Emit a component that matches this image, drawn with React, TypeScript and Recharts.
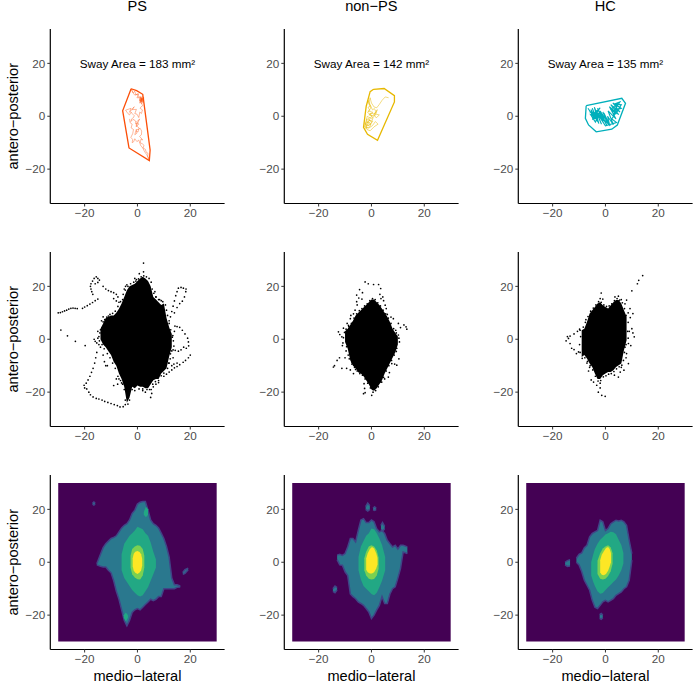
import { ComposedChart, Area, Line, Scatter, XAxis, YAxis, ReferenceDot } from 'recharts';
import type { ReactNode } from 'react';

type Pt = [number, number];
type Band = [number, number, number]; // x, low, high

const titles = ['PS', 'non\u2212PS', 'HC'];
const swayLabels = ['Sway Area = 183 mm\u00B2', 'Sway Area = 142 mm\u00B2', 'Sway Area = 135 mm\u00B2'];
const axisTicks = [-20, 0, 20];
const hullColors = ['#FC4E07', '#E7B800', '#00AFBB'];
const viridis = ['#440154', '#414487', '#2A788E', '#22A884', '#7AD151', '#FDE725'];

// top row: convex hulls
const psHull: Pt[] = [[-2.4, 10.4], [-0.3, 9.7], [2, 8.3], [2.3, 6.2], [4.8, -12.8], [4.5, -16.8], [-3.2, -12], [-5.6, 2.1], [-2.4, 10.4]];
const nonHull: Pt[] = [[0.8, 10.2], [4.8, 10.5], [8.7, 7.8], [8.7, 5.4], [2.3, -9.1], [-1.5, -6.8], [-3, -4.2], [-2, 3.7], [-0.5, 9.3], [0.8, 10.2]];
const hcHull: Pt[] = [[-7.3, 4], [6.2, 6.8], [7.6, 4.9], [4.5, -3.3], [2.4, -4.9], [-3.5, -5.9], [-6.4, -3.3], [-7.6, -0.8], [-7.3, 4]];

// top row: sway traces
const psTrace: Pt[] = [[1, 7], [2, 5.5], [1.2, 6.8], [2.3, 6], [0.8, 5], [1.8, 7.5], [2.5, 6.5], [1, 5.5], [2, 7], [1.4, 4.8], [2.2, 5.2], [0.6, 6.2], [1.7, 6.4], [0.9, 7.6], [1.9, 6.1], [1.1, 5.9], [2.4, 7.2], [1.5, 5.6], [0.4, 7.4], [0, 8.5], [-0.6, 8], [-1, 9.5], [-1.6, 8.8], [-2.3, 10.2], [-1.8, 9], [-1, 8], [0.5, 8.5], [-0.2, 7], [1.5, 7], [0.8, 6], [2, 4], [1.4, 3.6], [1, 3], [1.9, 2.4], [1.5, 1], [0.9, 1.6], [0.5, -0.5], [-0.2, 0.8], [-1, 1], [-0.4, 2.6], [-2, 2.5], [-1.2, 3.6], [-3, 1.5], [-2.4, 3], [-4.5, 2.3], [-3.6, 1], [-3, 0.5], [-2.4, 1.6], [-2, 1], [-1.2, 0.2], [-1.5, -0.5], [-2.2, -1], [-2.5, -2], [-1.7, -1.2], [-1, -1.5], [-0.4, -2.6], [0, -3], [-0.8, -2.5], [-0.3, -3.4], [-0.5, -4], [0.5, -3], [-0.3, -2], [0.4, -1.6], [0.8, -1], [0.2, -2.4], [-0.5, -3.5], [0.6, -4.4], [0.2, -6], [-0.6, -5.4], [-1, -7], [-0.2, -6.4], [-0.5, -5], [0.4, -5], [1, -4.5], [1.6, -5.6], [1.5, -7], [0.8, -7.6], [2, -9], [1.4, -8.6], [1, -10], [1.8, -10.4], [2.5, -11], [2.1, -12], [3, -12.5], [3.3, -13.6], [4, -14], [3.9, -15.2], [4.5, -16.5], [3.5, -14.5], [2.7, -13.4], [2, -12], [1.2, -11], [0.5, -9], [-0.2, -9.6], [-1, -8.5], [-1.4, -9.6], [-2, -10], [-1.8, -8.8], [-2.5, -8], [-1.8, -6.6], [-1.5, -5], [-2.4, -4.4], [-2, -3], [-2.8, -2.4], [-3, -1]];
const nonTrace: Pt[] = [[6.5, 7], [5.2, 7.3], [4, 6], [3, 4.5], [2, 3.2], [1, 3.5], [0, 5], [-0.5, 7], [-1, 5], [-0.2, 3], [-1.2, 2], [0.5, 1.5], [-1, 0.5], [0.8, 0.2], [2.2, 2.5], [1.5, 0.5], [0, -1], [-1.6, 0], [-2, -2], [-0.5, -1.5], [-2.4, -3], [-1, -3.5], [0.5, -2], [-1.8, -1], [-2.6, -4], [-1, -4.5], [0.3, -3.6], [1.5, -2], [2.5, -3], [1, -4], [-0.5, -5.5], [-1.7, -5], [-2.5, -2.5], [-0.7, -2.4], [-2, -3.8], [-0.2, -3], [-1.4, -2], [-2.2, -4.6], [-0.6, -4], [0.6, -0.6], [-0.4, 0.6], [-1.5, 1.5], [-0.6, 2.2], [-1.3, 3.4], [-0.4, 3.8], [-0.9, 4.6], [-1.2, 6], [-0.5, 4.4], [0.4, 2.4], [1.1, 2.9], [1.8, 1.5], [0.9, 1], [3, 0.5], [1.8, -0.6], [0.6, 1.1], [-0.5, 1], [0.2, -0.2], [-1.1, -0.8], [-0.1, -2.2]];
const hcTrace: Pt[] = [[-6.6, 3], [-4, -1], [-5.5, 2.5], [-3, -2], [-5, 3], [-2.5, -2.8], [-4.2, 3.4], [-1.5, -3], [-3.6, 2.2], [-0.8, -2], [-3, 3], [0.5, -3.4], [-2, 2], [1, -2.5], [-1, 1.6], [1.8, -3.6], [-2.4, 0.5], [-5, -1.2], [-2, 3.2], [-4.4, 1], [-1.6, 1.2], [0, -1], [-0.6, 1.2], [1.5, -3], [0.8, 0], [3, -3.2], [1, 2], [4, -1], [1.5, 3.6], [5, 0.6], [2, 4.4], [5.5, 1.6], [2.8, 5], [6, 3], [3.4, 2.2], [5.5, 5.4], [3.4, 4.6], [6, 4.4], [4, 1], [2, 2.6], [4.6, 4.8], [3, 0.4], [5.4, 3.4], [2.4, -1], [4.2, -2.4], [0, -3.6], [-3, 1], [-6, 1.8], [-3.4, -0.4], [-5.6, 0.6], [-3.8, -2.2], [-2.2, 1.4]];

// middle row: solid part of the cloud and loose points
const psCloud: Band[] = [[-14, 0, 4], [-13, -2, 6], [-12, -3, 8], [-11, -4.5, 8.5], [-10, -6, 9], [-9, -8.5, 9], [-8, -10, 10], [-7, -13, 11.5], [-6, -15, 13.5], [-5, -18, 16], [-4, -24, 18.5], [-3, -22, 20], [-2, -18, 20.5], [-1, -18.5, 21], [0, -17.5, 22], [1, -18, 23], [2, -18, 23.6], [3, -18.5, 23], [4, -18.5, 22], [5, -17, 20], [6, -15.5, 16], [7, -15, 15], [8, -15, 14], [9, -13, 13], [10, -12, 13.5], [11, -11, 8], [12, -6.5, 4.5], [13, -3, 2]];
const psLoose: Pt[] = [[-30, 10], [-29.2, 10.1], [-28.4, 10.4], [-27.6, 10.7], [-26.8, 11], [-26, 11.4], [-25.2, 11.7], [-24.4, 11.8], [-23.6, 11.7], [-22.8, 11.6], [-20.8, 11.7], [-20, 12.2], [-19, 12.7], [-18, 13.3], [-17, 13.9], [-16, 14.6], [-15, 15.2], [-16.9, 17], [-17.3, 18], [-17.6, 19], [-17.8, 20], [-17.6, 21], [-17, 22], [-16.4, 23], [-15.6, 23.6], [-15, 23], [-14.4, 22.4], [-16, 21], [-15, 21.5], [-13, 20], [-12, 19], [-11, 18.4], [-10, 18], [-9, 17.6], [-8, 17], [-7.4, 16], [-9, 15.4], [-8, 14.5], [-7, 14], [-29, 3.5], [-26.5, 1.3], [-23.5, -0.8], [-19.8, -2.4], [-16.4, 0], [-16, -0.8], [-15.4, -1.4], [-15, 0.4], [-14.6, -2], [-14, -3], [-13, -6], [-12.5, -8.5], [-12, -10], [-11.4, -10], [-15.4, -5], [-15.8, -7], [-16.2, -9], [-16.8, -11], [-17.4, -12.5], [-18, -14], [-18.7, -15.4], [-19.4, -16.6], [-20.2, -17.4], [-20, -18.4], [-19.2, -18.8], [-18.4, -20], [-17.8, -21], [-16.8, -21.8], [-15.6, -22.4], [-14.6, -22.6], [-13.4, -23], [-12.4, -23.5], [-11.2, -23.9], [-10, -24.3], [-8.8, -24.7], [-7.6, -25.1], [-6.6, -25.6], [-5.4, -25.5], [-4.6, -24.7], [-8, -15], [-9, -17.5], [-7.5, -17], [12, 7], [12.5, 8.5], [13, 10.5], [13.5, 12.5], [14, 14.5], [14.5, 16.5], [15, 18], [15.5, 19.3], [16.5, 19.6], [17.4, 19.3], [18.4, 19], [18.3, 18], [17.8, 16], [17, 14.4], [16, 13.5], [15, 12], [14, 10], [15, 4.8], [16, 4.5], [17, 3.4], [18, 2], [19, 0.4], [19.3, -1], [19.4, -2.5], [18.5, -3.4], [17.5, -3], [16.5, -4], [15.5, -4.5], [14.3, -4.2], [13.5, -4], [20, -6], [19.3, -7], [18.2, -8], [17.3, -8.7], [16, -9.6], [15, -10.3], [14, -10.8], [13, -11.6], [12, -12.4], [11, -13.2], [10, -14], [15, -9], [13.8, -9.4], [13, -10], [12, -9], [12.5, -5.5], [13.5, -7], [13.2, 0.8], [14, 3], [14.2, 5], [2.3, 28.8], [2.3, 25.5], [0.7, 24.8], [5, -22], [5.4, -20.5], [5.2, -19], [-1, 23], [-0.4, 22.6], [-4.5, 20], [-5, 19], [-4, 20.6], [-6.5, -2], [-13.6, 7], [-14, 3.6], [-15, 3], [-13, 8.5], [-11, 8.8], [8, 15], [9, 14.6], [6.6, 18], [7, 16], [-6, -16.5], [-7, -15], [3, -20], [2, -19.4], [7, -17], [8, -16.4], [6, -18]];
const psEdge: Pt[] = [[-14.6, 1], [-14.2, 2.4], [-13.4, 4.4], [-13, 6.6], [-12.4, 7.4], [-11.6, 8.4], [-10.4, 9.4], [-9.4, 9.8], [-8.4, 10.6], [-7.4, 12.4], [-6.4, 14.2], [-5.6, 15], [-5.4, 17], [-4.6, 18.6], [-3.6, 20], [-2.6, 21], [-1.4, 21.6], [-0.6, 22], [0.4, 22.8], [1.4, 23.6], [2.4, 24], [3.4, 23.6], [4.4, 23], [5.2, 21.6], [5.6, 19], [6.2, 17.4], [7, 16], [8.4, 15], [9.6, 14.2], [10.6, 13], [11, 11], [11.4, 9], [12, 6], [12.6, 3.6], [13.4, 1.4], [13.6, -0.6], [13.8, -2.6], [13, -4.4], [12.4, -7.4], [11.8, -9], [11.4, -11], [10, -12.8], [9, -13.8], [8, -15.6], [6.8, -16], [5.8, -17], [4.6, -19], [3.6, -19], [2, -18.8], [0.6, -18.8], [-1, -19.4], [-2, -19], [-3, -23], [-3.6, -24.5], [-4.6, -23], [-5, -19], [-5.6, -17], [-6.4, -15.6], [-7.4, -14], [-8.4, -11], [-9.4, -9], [-10.4, -7], [-11.4, -5.4], [-12.6, -3.6], [-13.4, -2], [-14.4, -0.6]];

const nonCloud: Band[] = [[-10, -1, 3], [-9, -3.5, 4], [-8, -8, 5.5], [-7, -10, 7], [-6, -11, 9], [-5, -12.5, 10], [-4, -13, 11], [-3, -14, 12], [-2, -15.5, 13], [-1, -17, 14], [0, -19, 15], [1, -19.5, 15], [2, -18.5, 14], [3, -17, 13], [4, -15.5, 11.5], [5, -13, 10], [6, -11, 8.5], [7, -9, 6.5], [8, -7, 4], [9, -5, 2.5], [10, -2, 1]];
const nonLoose: Pt[] = [[-2.4, 21.7], [-1.2, 21], [0.8, 20.7], [2.7, 20.7], [3.5, 19.2], [-4.5, 18.8], [-5.6, 16.7], [-5.6, 14.2], [4.3, 16], [5.2, 12.9], [5.6, 11.6], [-6.2, 11], [-8, 7.8], [-8.7, 5.3], [-12.5, 2.8], [-11.2, 0.9], [-12, 1.8], [-10.8, -1.4], [13.1, 4.7], [12.3, 5.4], [11, 4.4], [10.2, 6], [8.3, 7.8], [13.4, 3.8], [-14.4, -10.5], [-14, -10], [-12.1, -7], [-13, -8], [-10, -7], [-8, -11.6], [-7.4, -8.6], [-11.2, -11], [-9.4, -11], [-6.8, -13], [-6, -11.4], [9.6, -9.8], [8.8, -9.4], [7.7, -9.2], [6.4, -14.3], [6.8, -12.6], [3.9, -16.2], [5, -15], [-2.8, -16.8], [-2.6, -18.6], [-3, -20.6], [-2.4, -20.2], [0.1, -21.2], [0.6, -19], [-3.4, 17.6], [-4.8, 15.6], [-3.6, 15.2], [-5.4, 13], [3.2, 17], [3.6, 15.4], [4.6, 14.6], [6, 9.4], [7.4, 8.4], [-6.8, 9.6], [-7.8, 9], [-9.2, 6], [-10.6, 4.2], [9.2, 3.4], [10.2, 1.6], [10.6, -1], [9.4, -4.6], [10.4, -7.4], [-8.8, -6], [-9.6, -4.4], [-11, -2.4]];
const nonEdge: Pt[] = [[-10.6, 0.6], [-10.2, 2.6], [-9.6, 3.8], [-8.6, 4.8], [-7.6, 6], [-6.6, 8], [-5.6, 9.6], [-4.6, 10.8], [-3.6, 11.6], [-2.6, 12.6], [-1.6, 13.4], [-0.6, 14.6], [0.4, 15.4], [1.4, 15], [2.4, 13.8], [3.4, 12.6], [4.4, 11], [5.4, 9.6], [6.4, 8], [7.4, 6], [8.4, 4], [9.4, 2.4], [10.4, 0.4], [9.6, -3.4], [8.6, -6], [7.6, -8], [6.6, -10], [5.6, -12], [4.6, -14.4], [3.6, -16.2], [2.6, -18], [1.6, -19.4], [0.6, -20], [-0.4, -18.4], [-1.4, -16.6], [-2.4, -15], [-3.4, -13.6], [-4.4, -13], [-5.4, -12], [-6.4, -10.6], [-7.4, -9.4], [-8.4, -7.4], [-9.4, -2.8]];

const hcCloud: Band[] = [[-9, -6.7, 3.4], [-8, -6, 4], [-7, -7.3, 6.5], [-6, -9.2, 9.7], [-5, -10.5, 11], [-4, -13, 12.2], [-3, -15, 13.5], [-2, -15, 14], [-1, -13.6, 12.9], [0, -13, 12.2], [1, -12.4, 11.6], [2, -12.4, 12.9], [3, -11.7, 14], [4, -10.5, 14.8], [5, -9.8, 14.8], [6, -9.2, 13.5], [7, -4.2, 11], [8, -0.4, 8.5]];
const hcLoose: Pt[] = [[14.1, 24.1], [12.6, 22.3], [12.1, 21], [10, 18.3], [-1.6, 17.5], [-2, 15.4], [-1, 15.2], [4.9, 16.3], [3.6, 16], [6, 15], [8, 14.8], [7.4, 13.4], [9.3, 11.6], [8.6, 10], [10.4, 9.7], [9.4, 8.2], [-4.5, 9], [-6.4, 6.6], [-7.4, 7.4], [-14, 0.3], [-14.9, -0.6], [-14.4, 1], [-13.4, 1.2], [-13.4, -1.6], [-11.9, 2], [-10.6, 3], [-11.9, -3.9], [-12.8, -3.4], [-10.2, -4.8], [-11, -5.4], [-9.8, 3.8], [10, 4], [9, 3], [10.9, 0.9], [10.4, 2.4], [8.7, -1.6], [9.6, -2.4], [7.4, -3], [8, -5.4], [8.7, -9.2], [7.8, -7], [7, -11.7], [6, -10.6], [4.9, -14.3], [3.4, -13.6], [5.6, -12.4], [-4.5, -16.2], [-5.4, -15.4], [-3.3, -17.4], [-2, -16.6], [-2.7, -20], [-1.4, -21.2], [-0.1, -21.6], [-2, -18.4], [-6.4, -12], [-6, -10.6], [-7, -9]];
const hcEdge: Pt[] = [[-9.6, -5], [-9.8, -2], [-9.4, 1], [-9.6, 3.4], [-8.4, 4.6], [-7.6, 6.4], [-6.6, 8.6], [-5.6, 10.6], [-4.6, 11.8], [-3.6, 13], [-2.6, 14.2], [-1.6, 14], [-0.6, 13], [0.4, 12.4], [1.4, 12.6], [2.4, 13.4], [3.4, 14.6], [4.4, 15.4], [5.4, 14.8], [6.4, 13.8], [7.2, 11.6], [7.8, 9], [8.6, 6.4], [8.4, 3], [8.6, 0.4], [7.8, -2], [7.2, -5], [6.8, -8], [6.2, -9.8], [5.2, -10.4], [4.2, -11.2], [3.2, -12.2], [2.2, -13], [1.2, -13.2], [0.2, -13.8], [-0.8, -14.2], [-1.8, -15.6], [-2.8, -15.8], [-3.8, -14], [-4.8, -11.6], [-5.8, -10], [-6.8, -8.4], [-7.8, -7], [-8.8, -7.2]];

// bottom row: density levels, from outside to inside
const densityBack: Band[] = [[-30, -30, 30], [30, -30, 30]];
const psOuter: Band[] = [[-15.4, -1, -0.6], [-14, -1.5, 3], [-13, -1.8, 5.5], [-12, -1.8, 7], [-11, -3, 8], [-10, -4, 9], [-9, -7, 9.4], [-8, -11, 10], [-7, -14, 11.5], [-6, -18, 13], [-5, -22, 14], [-4, -24, 14.6], [-3, -22, 16], [-2, -19, 18.5], [-1, -18, 19.7], [0, -17.5, 22], [1, -18, 22.7], [2, -17, 23], [3, -16, 23], [4, -15, 19.7], [5, -14, 16], [6, -14.5, 14.6], [7, -14, 14], [8, -13, 13], [9, -13, 11], [10, -10, 9], [11, -10, 6], [12, -10, 2], [13, -10, -6], [14, -10, -8.5], [15, -9.5, -8.5], [16.2, -9.4, -9]];
const psIslandA: Band[] = [[17.2, -4.6, -3.8], [18, -4.2, -2.8], [19.2, -2.8, -2.2]];
const psIslandB: Band[] = [[-17, 22, 22.4], [-16.5, 21.6, 22.8], [-16, 22, 22.4]];
const psGreen: Band[] = [[-6, -3, 3], [-5, -6, 7], [-4, -7.5, 8.5], [-3, -9, 10], [-2, -10.5, 11], [-1, -11.5, 12], [0, -12.5, 13.4], [1, -13, 13], [2, -12.5, 12.5], [3, -11, 11], [4, -9.5, 10], [5, -7, 7.5], [6, -4.5, 4], [7, -2, 1]];
const psSpotA: Band[] = [[-5.2, -21, -20], [-4.4, -22.4, -19], [-3.6, -21, -20]];
const psSpotB: Band[] = [[2.4, 18, 19], [3.2, 17, 21], [4, 18, 20]];
const psLime: Band[] = [[-2.6, -2, 2.5], [-2, -4.5, 5], [-1, -5.8, 6], [0, -6.4, 6.4], [1, -6.5, 6.2], [2, -5, 5], [2.6, -2, 2.5]];
const psYellow: Band[] = [[-1.8, -1.5, 1.5], [-1.4, -3.2, 3.2], [-0.8, -4, 4], [0, -4.4, 4.3], [0.8, -3.9, 3.9], [1.4, -3, 3], [1.8, -1.2, 1.2]];

const nonOuter: Band[] = [[-13, 1, 2.7], [-12, -1, 3], [-11, -1.1, 2.6], [-10, -3.6, 3.3], [-9, -5, 5.8], [-8, -12, 9], [-7, -13, 9], [-6, -13.8, 7.7], [-5, -15, 12], [-4, -15.6, 16], [-3, -16.3, 16.5], [-2, -17.5, 15], [-1, -18.8, 15], [0, -21.3, 16], [1, -20, 15.3], [2, -18, 12.7], [3, -16.3, 11.5], [4, -13, 12], [5, -15.6, 10.9], [6, -15.6, 8.3], [7, -12, 7], [8, -10, 5.8], [9, -9.3, 6.4], [10, -6, 5], [11, -2.4, 6.4], [12, 3.9, 6.4], [13.6, 3.3, 5.8]];
const nonIslandA: Band[] = [[-2.2, 20, 21], [-1.4, 19.4, 22.4], [-0.6, 20, 21.4]];
const nonIslandB: Band[] = [[0.6, 19.8, 20.4], [1.2, 19.6, 21], [1.8, 19.9, 20.4]];
const nonIslandC: Band[] = [[3.6, 12.4, 14], [4.2, 11.8, 15], [5, 12.6, 13.6]];
const nonIslandD: Band[] = [[-14.6, -11, -10], [-13.8, -11.5, -9], [-13, -10.5, -9.6]];
const nonGreen: Band[] = [[-4.9, -3, 2], [-4, -6.5, 6], [-3, -9, 8], [-2, -10, 10], [-1, -11, 11], [0, -12, 12.8], [1, -12.5, 12.5], [2, -11.5, 11], [3, -9.5, 9], [4, -7, 6.5], [5.2, -3, 2]];
const nonLime: Band[] = [[-2.7, -3, 1.5], [-2, -5, 4], [-1, -6.2, 6], [0, -6.5, 6.4], [1, -6.3, 6], [2, -5, 4.4], [2.7, -2.5, 1.8]];
const nonYellow: Band[] = [[-2, -2.8, 1.4], [-1.4, -3.8, 3.4], [-0.6, -4.3, 5], [0.2, -4.3, 5.8], [1, -3.8, 5.2], [1.8, -2.4, 3.4], [2.3, -0.8, 1.6]];

const hcOuter: Band[] = [[-11, 0, 1.5], [-10, -1, 3], [-9, -3.5, 3.5], [-8, -6.8, 5.5], [-7, -8.7, 6.4], [-6, -10.6, 9.6], [-5, -14.4, 10.9], [-4, -17, 11.5], [-3, -17.5, 12], [-2, -16.3, 15.9], [-1, -15, 15.3], [0, -14.4, 12], [1, -15, 12.8], [2, -14.4, 14.6], [3, -13.8, 15.3], [4, -12.5, 15.9], [5, -11.9, 15.6], [6, -11.2, 15.9], [7, -10, 15.3], [8, -9.3, 14], [9, -6.8, 8.3], [10, 0.8, 3.3]];
const hcIslandA: Band[] = [[-15.3, -1, 0], [-14.4, -1.6, 0.6], [-13.4, -1.4, 1]];
const hcIslandB: Band[] = [[-2.2, -21.2, -19.8], [-1.6, -21.6, -19.4], [-1, -21, -20]];
const hcGreen: Band[] = [[-5.4, -5, 0], [-4.6, -7.5, 3], [-4, -9, 5], [-3, -11, 7], [-2, -11.9, 8.5], [-1, -11.6, 9.5], [0, -10.5, 10.5], [1, -9.5, 11], [2, -8.5, 11.5], [3, -7.5, 11.3], [4, -6.5, 10.6], [5, -5, 8.5], [6, -3, 6.5], [6.8, -0.5, 3.5]];
const hcLime: Band[] = [[-3, -4.4, 0.6], [-2, -6.2, 3.4], [-1, -6.5, 5.2], [0, -6.2, 6], [1, -5.2, 6.4], [2, -3.4, 5.6], [2.7, -0.6, 3.4]];
const hcYellow: Band[] = [[-2, -3.8, 0.8], [-1.4, -4.7, 2.8], [-0.6, -4.9, 4.2], [0.2, -4.4, 5.4], [1, -3.2, 5.8], [1.6, -1.6, 5], [2.1, 0, 3.4]];

// density peak of each panel
const psPeak: Pt[] = [[0.1, 0]];
const nonPeak: Pt[] = [[0.2, 0.7]];
const hcPeak: Pt[] = [[0, 0.5]];

const FONT = '"Liberation Sans", Arial, sans-serif';
const COL_STEP = 234;
const ROW_TOPS = [0, 223, 446];

const pts = (list: Pt[]) => list.map(([x, y]) => ({ x, y }));
const bands = (list: Band[]) => list.map(([x, lo, hi]) => ({ x, band: [lo, hi] }));
const minusTick = (v: number) => String(v).replace('-', '\u2212');
const Dot = (p: any) => <circle cx={p.cx} cy={p.cy} r={0.85} fill={p.fill} />;

function Panel({ row, col, children }: { row: number; col: number; children: ReactNode }) {
  return (
    <div style={{ position: 'absolute', left: col * COL_STEP, top: ROW_TOPS[row] }}>
      <ComposedChart width={232} height={235} margin={{ top: 29, right: 7.4, left: 0, bottom: 0 }}>
        <XAxis
          type="number"
          dataKey="x"
          domain={[-33, 33]}
          ticks={axisTicks}
          height={31.5}
          tick={{ fill: '#4d4d4d', fontSize: 11.7, fontFamily: FONT }}
          tickFormatter={minusTick}
          tickSize={3}
          tickMargin={2}
          tickLine={{ stroke: '#333', strokeWidth: 1 }}
          axisLine={{ stroke: '#000', strokeWidth: 1.2 }}
          label={row === 2 ? { value: 'medio\u2212lateral', position: 'insideBottom', offset: 0, fill: '#000', fontSize: 14.6, fontFamily: FONT } : undefined}
        />
        <YAxis
          type="number"
          dataKey="y"
          domain={[-33, 33]}
          ticks={axisTicks}
          width={50.3}
          tick={{ fill: '#4d4d4d', fontSize: 11.7, fontFamily: FONT }}
          tickFormatter={minusTick}
          tickSize={3}
          tickMargin={2}
          tickLine={{ stroke: '#333', strokeWidth: 1 }}
          axisLine={{ stroke: '#000', strokeWidth: 1.2 }}
          label={col === 0 ? { value: 'antero\u2212posterior', angle: -90, position: 'insideLeft', offset: 13, dy: 0, fill: '#000', fontSize: 14.6, fontFamily: FONT, textAnchor: 'middle' } : undefined}
        />
        {children}
      </ComposedChart>
    </div>
  );
}

// built once, the data props have to stay the same objects between renders
const outlinePanels = [
  { hull: pts(psHull), trace: pts(psTrace), traceWidth: 0.4 },
  { hull: pts(nonHull), trace: pts(nonTrace), traceWidth: 0.5 },
  { hull: pts(hcHull), trace: pts(hcTrace), traceWidth: 1.1 },
];
const cloudPanels = [
  { cloud: bands(psCloud), loose: pts([...psLoose, ...psEdge]) },
  { cloud: bands(nonCloud), loose: pts([...nonLoose, ...nonEdge]) },
  { cloud: bands(hcCloud), loose: pts([...hcLoose, ...hcEdge]) },
];
const backBand = bands(densityBack);
const densityPanels = [
  { outer: [psOuter, psIslandA, psIslandB].map((b) => bands(b)), green: [psGreen, psSpotA, psSpotB].map((b) => bands(b)), lime: bands(psLime), yellow: bands(psYellow), peak: pts(psPeak) },
  { outer: [nonOuter, nonIslandA, nonIslandB, nonIslandC, nonIslandD].map((b) => bands(b)), green: [bands(nonGreen)], lime: bands(nonLime), yellow: bands(nonYellow), peak: pts(nonPeak) },
  { outer: [hcOuter, hcIslandA, hcIslandB].map((b) => bands(b)), green: [bands(hcGreen)], lime: bands(hcLime), yellow: bands(hcYellow), peak: pts(hcPeak) },
];

const bandArea = (data: any[], fill: string, key: string, stroke = 'none') => (
  <Area
    key={key}
    data={data}
    dataKey="band"
    type="linear"
    fill={fill}
    fillOpacity={1}
    stroke={stroke}
    strokeWidth={stroke === 'none' ? 0 : 1.5}
    dot={false}
    activeDot={false}
    isAnimationActive={false}
  />
);

export default function App() {
  return (
    <div style={{ position: 'absolute', left: 0, top: 0, width: 700, height: 681, background: '#fff', overflow: 'hidden' }}>
      {titles.map((t, c) => (
        <div key={t} style={{ position: 'absolute', left: 137.3 + c * COL_STEP - 60, width: 120, top: 0, textAlign: 'center', fontFamily: FONT, fontSize: 14.6, color: '#000', lineHeight: '13px' }}>
          {t}
        </div>
      ))}
      {outlinePanels.map((p, c) => (
        <Panel key={`top${c}`} row={0} col={c}>
          <Line data={p.trace} dataKey="y" type="linear" stroke={hullColors[c]} strokeWidth={p.traceWidth} dot={false} activeDot={false} isAnimationActive={false} />
          <Line data={p.hull} dataKey="y" type="linear" stroke={hullColors[c]} strokeWidth={1.3} dot={false} activeDot={false} isAnimationActive={false} />
          <ReferenceDot x={0} y={20} r={0} stroke="none" label={{ value: swayLabels[c], position: 'center', fill: '#000', fontSize: 11.7, fontFamily: FONT }} />
        </Panel>
      ))}
      {cloudPanels.map((p, c) => (
        <Panel key={`mid${c}`} row={1} col={c}>
          {bandArea(p.cloud, '#000', 'cloud')}
          <Scatter data={p.loose} fill="#000" shape={Dot} isAnimationActive={false} />
        </Panel>
      ))}
      {densityPanels.map((p, c) => (
        <Panel key={`low${c}`} row={2} col={c}>
          {bandArea(backBand, viridis[0], 'back')}
          {p.outer.map((b, i) => bandArea(b, viridis[2], `outer${i}`, viridis[1]))}
          {p.green.map((b, i) => bandArea(b, viridis[3], `green${i}`))}
          {bandArea(p.lime, viridis[4], 'lime')}
          {bandArea(p.yellow, viridis[5], 'yellow')}
          {/* the Areas only draw when the chart also holds a Scatter with a point */}
          <Scatter data={p.peak} fill={viridis[5]} shape={Dot} isAnimationActive={false} />
        </Panel>
      ))}
    </div>
  );
}
